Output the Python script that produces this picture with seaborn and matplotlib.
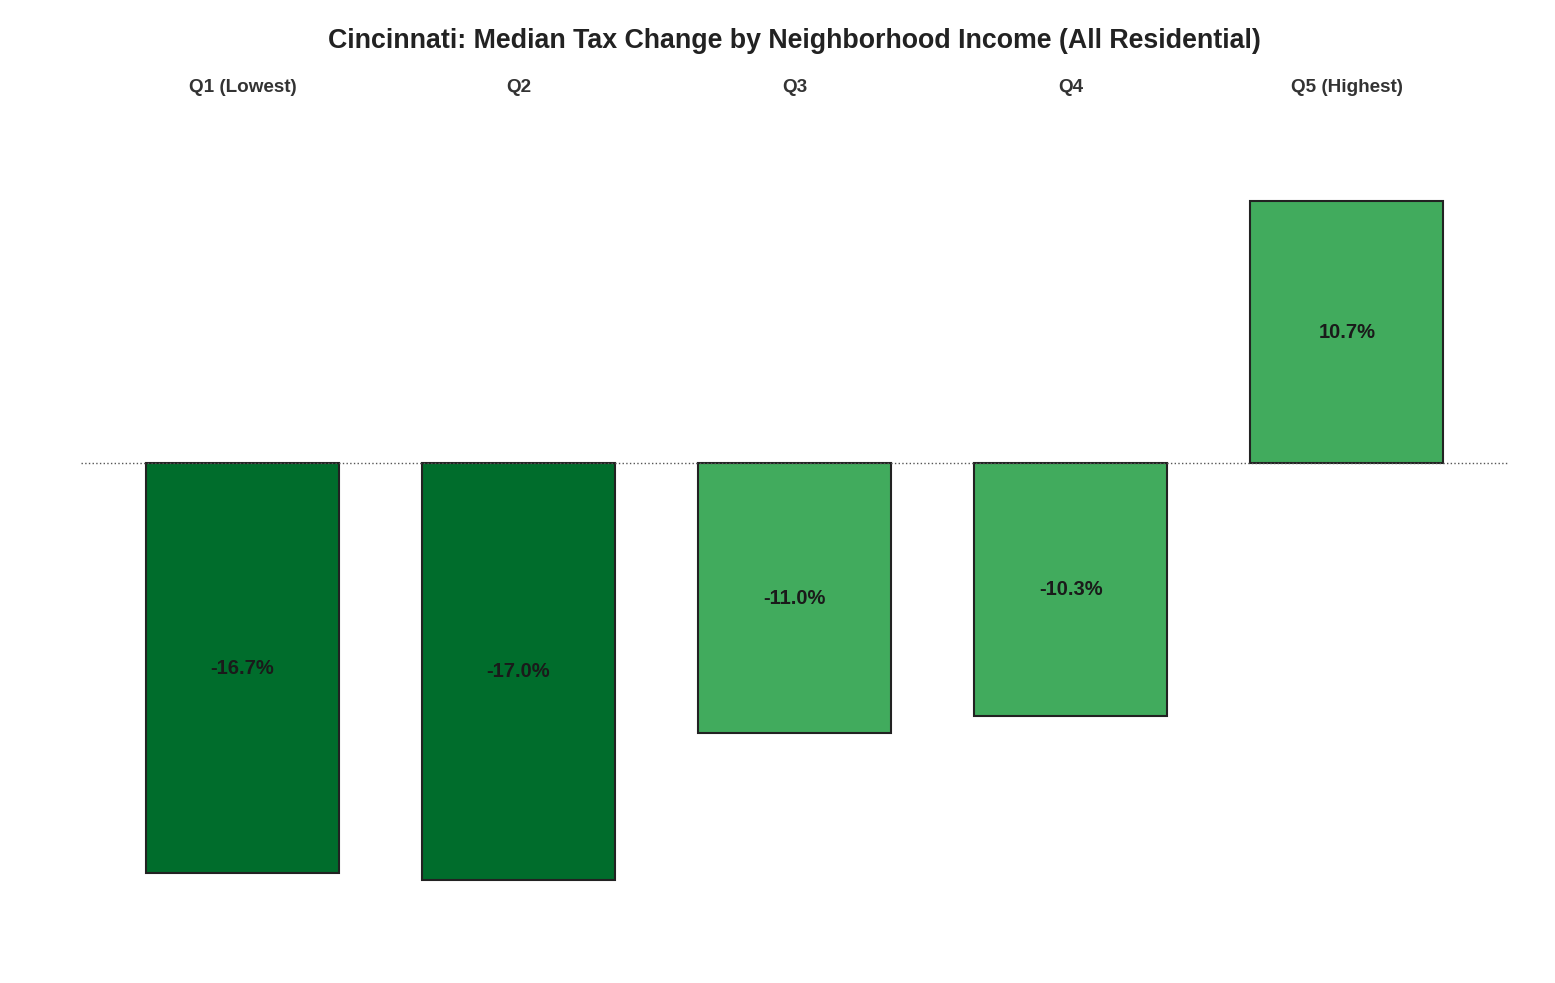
import pandas as pd
import seaborn as sns
import matplotlib.pyplot as plt

sns.set_style('white')
plt.rcParams['font.family'] = ['Liberation Sans', 'DejaVu Sans']

quintiles = ['Q1 (Lowest)', 'Q2', 'Q3', 'Q4', 'Q5 (Highest)']
median_change = [-16.7, -17.0, -11.0, -10.3, 10.7]
bar_colors = ['#006d2c', '#006d2c', '#41ab5d', '#41ab5d', '#41ab5d']

df = pd.DataFrame({'quintile': quintiles, 'change': median_change})

fig, ax = plt.subplots(figsize=(15.55, 9.83), dpi=100)
fig.subplots_adjust(left=0.052, right=0.97, top=0.83, bottom=0.07)

sns.barplot(data=df, x='quintile', y='change', hue='quintile', palette=bar_colors,
            legend=False, width=0.7, edgecolor='#222222', linewidth=1.5, saturation=1, ax=ax)
ax.axhline(0, color='#555555', linestyle=':', linewidth=1)

for i, v in enumerate(median_change):
    ax.text(i, v / 2, f'{v:.1f}%', ha='center', va='center', fontsize=14.5,
            fontweight='bold', color='#1a1a1a')
    ax.text(i, 1.107, quintiles[i], transform=ax.get_xaxis_transform(), ha='center',
            va='center', fontsize=13.6, fontweight='bold', color='#333333')

ax.set_xlim(-0.585, 4.585)
ax.set_ylim(-18.4, 12.1)
ax.set_xlabel('')
ax.set_ylabel('')
ax.set_xticks([])
ax.set_yticks([])
sns.despine(ax=ax, left=True, bottom=True)
ax.text(0.5, 1.169, 'Cincinnati: Median Tax Change by Neighborhood Income (All Residential)',
        transform=ax.transAxes, ha='center', va='center',
        fontsize=19.3, fontweight='bold', color='#222222')

plt.savefig('out.png')
